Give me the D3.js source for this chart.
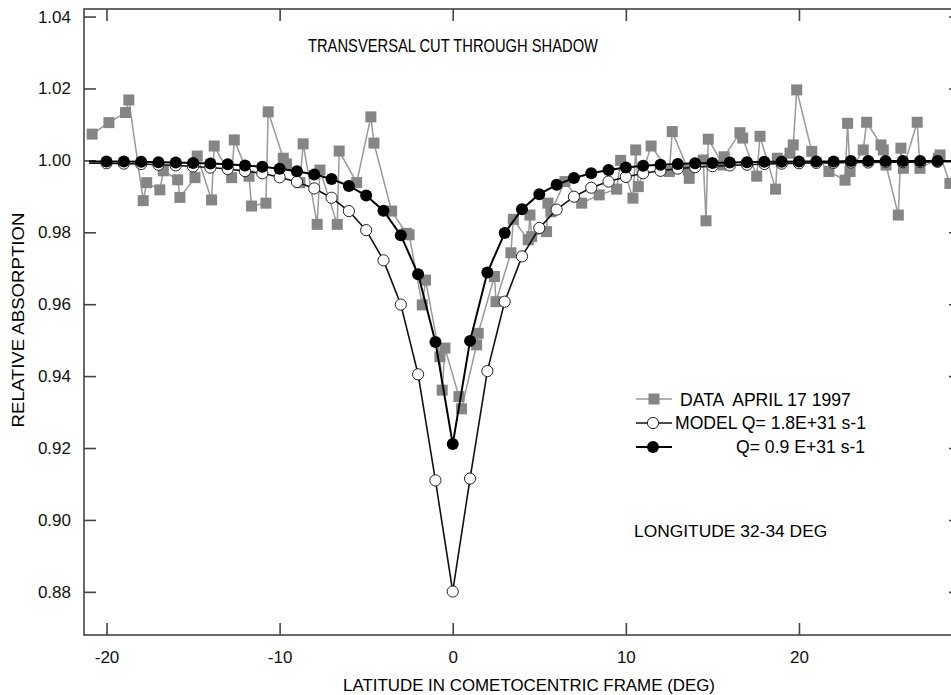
<!DOCTYPE html>
<html>
<head>
<meta charset="utf-8">
<script src="https://cdn.jsdelivr.net/npm/d3@7"></script>
<style>
	body { margin: 0; background: #fff; }
	svg { display: block; font-family: "Liberation Sans", Arial, sans-serif; }
</style>
</head>
<body>
<div id="chart"></div>
<script>
// measured data (latitude in deg, relative absorption)
let dataX = [-20.83, -19.86, -18.90, -18.71, -17.88, -17.68, -16.92, -16.72, -15.89, -15.76,
	-14.89, -14.76, -13.93, -13.78, -12.77, -12.62, -11.77, -11.62, -10.79, -10.66,
	-9.79, -9.60, -8.83, -8.64, -7.83, -7.67, -6.67, -6.56, -5.55, -4.73,
	-4.55, -3.53, -2.67, -2.52, -1.76, -1.57, -0.74, -0.61, -0.45, 0.36,
	0.51, 1.38, 1.47, 2.41, 2.50, 3.36, 3.50, 4.36, 4.46, 4.56,
	5.42, 5.50, 5.67, 6.48, 7.45, 8.46, 9.47, 9.70, 10.41, 10.57,
	10.72, 11.46, 12.51, 12.68, 13.60, 13.66, 14.47, 14.63, 14.76, 15.63,
	15.68, 16.59, 16.75, 17.56, 17.75, 18.65, 18.75, 19.48, 19.67, 19.87,
	20.74, 21.73, 22.66, 22.81, 22.95, 23.71, 23.91, 24.74, 24.87, 25.03,
	25.74, 25.89, 26.03, 26.83, 26.99, 28.05, 28.15, 28.72];
let dataY = [1.0073, 1.0105, 1.0133, 1.0168, 0.9888, 0.9938, 0.9918, 0.9971, 0.9946, 0.9897,
	0.9952, 1.0012, 0.9890, 1.0040, 0.9952, 1.0057, 0.9956, 0.9873, 0.9881, 1.0135,
	1.0006, 0.9990, 0.9938, 1.0046, 0.9822, 0.9973, 0.9822, 1.0026, 0.9938, 1.0121,
	1.0048, 0.9859, 0.9797, 0.9793, 0.9598, 0.9667, 0.9454, 0.9361, 0.9478, 0.9343,
	0.9309, 0.9487, 0.9519, 0.9677, 0.9607, 0.9743, 0.9836, 0.9779, 0.9848, 0.9788,
	0.9802, 0.9881, 0.9857, 0.9941, 0.9881, 0.9904, 0.9920, 1.0000, 0.9895, 1.0029,
	0.9927, 1.0040, 0.9969, 1.0080, 0.9973, 0.9950, 1.0001, 0.9832, 1.0059, 0.9987,
	1.0010, 1.0077, 1.0062, 0.9956, 1.0067, 0.9920, 1.0006, 1.0020, 1.0043, 1.0196,
	1.0025, 0.9969, 0.9945, 1.0103, 0.9969, 1.0029, 1.0106, 1.0043, 1.0029, 0.9987,
	0.9848, 1.0034, 0.9978, 1.0106, 0.9978, 1.0006, 1.0015, 0.9936];

// model grid (deg)
let modelX = [-21, -20, -19, -18, -17, -16, -15, -14, -13, -12, -11, -10, -9, -8, -7, -6, -5, -4, -3, -2, -1,
	0, 1, 2, 3, 4, 5, 6, 7, 8, 9, 10, 11, 12, 13, 14, 15, 16, 17, 18, 19, 20, 21, 22, 23, 24, 25, 26, 27, 28, 29];
// model Q = 1.8E+31 s-1 (open circles)
let modelHigh = [0.9992, 0.9992, 0.9991, 0.9990, 0.9988, 0.9986, 0.9983, 0.9980, 0.9976, 0.9970, 0.9964, 0.9953, 0.9940, 0.9922, 0.9896, 0.9859, 0.9806, 0.9722, 0.9599, 0.9405, 0.9110,
	0.8801, 0.9115, 0.9414, 0.9607, 0.9733, 0.9812, 0.9863, 0.9899, 0.9924, 0.9941, 0.9954, 0.9964, 0.9971, 0.9977, 0.9981, 0.9984, 0.9986, 0.9988, 0.9990, 0.9991, 0.9992, 0.9993, 0.9993, 0.9994, 0.9994, 0.9995, 0.9995, 0.9995, 0.9996, 0.9996];
// model Q = 0.9E+31 s-1 (filled circles)
let modelLow = [0.9997, 0.9997, 0.9997, 0.9996, 0.9995, 0.9994, 0.9993, 0.9991, 0.9989, 0.9986, 0.9982, 0.9977, 0.9970, 0.9961, 0.9948, 0.9929, 0.9902, 0.9860, 0.9792, 0.9683, 0.9495,
	0.9211, 0.9498, 0.9688, 0.9798, 0.9864, 0.9906, 0.9932, 0.9951, 0.9964, 0.9973, 0.9980, 0.9985, 0.9988, 0.9990, 0.9992, 0.9993, 0.9994, 0.9995, 0.9996, 0.9996, 0.9997, 0.9997, 0.9997, 0.9998, 0.9998, 0.9998, 0.9998, 0.9998, 0.9998, 0.9998];

let xTicks = [-20, -10, 0, 10, 20];
let yTicks = [0.88, 0.90, 0.92, 0.94, 0.96, 0.98, 1.00, 1.02, 1.04];

let width = 951, height = 695;
let box = { left: 84, top: 9, right: 961, bottom: 635 };
let grey = "#858585";

let svg = d3.select("#chart").append("svg")
	.attr("width", width)
	.attr("height", height);

let x = d3.scaleLinear().domain([-21.3, 29.36]).range([box.left, box.right]);
let y = d3.scaleLinear().domain([0.868, 1.0421]).range([box.bottom, box.top]);

svg.append("clipPath").attr("id", "clip")
	.append("rect")
	.attr("x", box.left).attr("y", box.top)
	.attr("width", box.right - box.left).attr("height", box.bottom - box.top);

// frame + inward ticks on all four sides
svg.append("rect")
	.attr("x", box.left).attr("y", box.top)
	.attr("width", box.right - box.left).attr("height", box.bottom - box.top)
	.attr("fill", "none").attr("stroke", "#444").attr("stroke-width", 1.6);

svg.append("g")
	.attr("transform", "translate(0," + box.bottom + ")")
	.call(d3.axisBottom(x).tickValues(xTicks).tickSize(-12).tickPadding(16).tickFormat(d => String(d)))
	.call(g => g.select(".domain").remove());
svg.append("g")
	.attr("transform", "translate(0," + box.top + ")")
	.call(d3.axisTop(x).tickValues(xTicks).tickSize(-12).tickFormat(""))
	.call(g => g.select(".domain").remove());
svg.append("g")
	.attr("transform", "translate(" + box.left + ",0)")
	.call(d3.axisLeft(y).tickValues(yTicks).tickSize(-12).tickPadding(13).tickFormat(d3.format(".2f")))
	.call(g => g.select(".domain").remove());
svg.append("g")
	.attr("transform", "translate(" + box.right + ",0)")
	.call(d3.axisRight(y).tickValues(yTicks).tickSize(-12).tickFormat(""))
	.call(g => g.select(".domain").remove());

svg.selectAll(".tick line").attr("stroke", "#444").attr("stroke-width", 1.6);
svg.selectAll(".tick text").attr("font-size", 17).attr("fill", "#111")
	.attr("font-family", "'Liberation Sans', Arial, sans-serif");

// series
let data = dataX.map((d, i) => ({ x: d, y: dataY[i] }));
let high = modelX.map((d, i) => ({ x: d, y: modelHigh[i] }));
let low = modelX.map((d, i) => ({ x: d, y: modelLow[i] }));

let line = d3.line().x(d => x(d.x)).y(d => y(d.y));
let plot = svg.append("g").attr("clip-path", "url(#clip)");

plot.append("path").datum(data)
	.attr("d", line).attr("fill", "none")
	.attr("stroke", "#999").attr("stroke-width", 1.5);
plot.selectAll("rect.sq").data(data).enter().append("rect")
	.attr("class", "sq")
	.attr("x", d => x(d.x) - 5.5).attr("y", d => y(d.y) - 5.5)
	.attr("width", 11).attr("height", 11)
	.attr("fill", grey);

plot.append("path").datum(high)
	.attr("d", line).attr("fill", "none")
	.attr("stroke", "#111").attr("stroke-width", 1.6);
plot.selectAll("circle.hi").data(high.slice(1, -1)).enter().append("circle")
	.attr("class", "hi")
	.attr("cx", d => x(d.x)).attr("cy", d => y(d.y)).attr("r", 5.6)
	.attr("fill", "#fff").attr("stroke", "#222").attr("stroke-width", 1);

plot.append("path").datum(low)
	.attr("d", line).attr("fill", "none")
	.attr("stroke", "#000").attr("stroke-width", 2);
plot.selectAll("circle.lo").data(low.slice(1, -1)).enter().append("circle")
	.attr("class", "lo")
	.attr("cx", d => x(d.x)).attr("cy", d => y(d.y)).attr("r", 6)
	.attr("fill", "#000");

// texts
svg.append("text")
	.attr("x", 453).attr("y", 52)
	.attr("text-anchor", "middle").attr("font-size", 18.5)
	.attr("textLength", 290).attr("lengthAdjust", "spacingAndGlyphs")
	.text("TRANSVERSAL CUT THROUGH SHADOW");

svg.append("text")
	.attr("transform", "translate(24,320) rotate(-90)")
	.attr("text-anchor", "middle").attr("font-size", 17)
	.attr("textLength", 215).attr("lengthAdjust", "spacingAndGlyphs")
	.text("RELATIVE ABSORPTION");

svg.append("text")
	.attr("x", 529).attr("y", 691)
	.attr("text-anchor", "middle").attr("font-size", 17)
	.attr("textLength", 372).attr("lengthAdjust", "spacingAndGlyphs")
	.text("LATITUDE IN COMETOCENTRIC FRAME (DEG)");

svg.append("text")
	.attr("x", 634).attr("y", 537)
	.attr("font-size", 17.4)
	.text("LONGITUDE 32-34 DEG");

// legend
let legend = svg.append("g");
legend.append("line").attr("x1", 636).attr("x2", 672).attr("y1", 399).attr("y2", 399)
	.attr("stroke", "#999").attr("stroke-width", 1.5);
legend.append("rect").attr("x", 648.5).attr("y", 393.5).attr("width", 11).attr("height", 11).attr("fill", grey);
legend.append("text").attr("x", 680).attr("y", 406).attr("font-size", 17.6).attr("xml:space", "preserve")
	.text("DATA  APRIL 17 1997");

legend.append("line").attr("x1", 636).attr("x2", 672).attr("y1", 423).attr("y2", 423)
	.attr("stroke", "#111").attr("stroke-width", 1.6);
legend.append("circle").attr("cx", 653).attr("cy", 423).attr("r", 5.6)
	.attr("fill", "#fff").attr("stroke", "#222").attr("stroke-width", 1);
legend.append("text").attr("x", 675).attr("y", 429).attr("font-size", 17.6)
	.text("MODEL Q= 1.8E+31 s-1");

legend.append("line").attr("x1", 636).attr("x2", 672).attr("y1", 447).attr("y2", 447)
	.attr("stroke", "#000").attr("stroke-width", 2);
legend.append("circle").attr("cx", 653).attr("cy", 447).attr("r", 6).attr("fill", "#000");
legend.append("text").attr("x", 736).attr("y", 453).attr("font-size", 17.6)
	.text("Q= 0.9 E+31 s-1");
</script>
</body>
</html>
